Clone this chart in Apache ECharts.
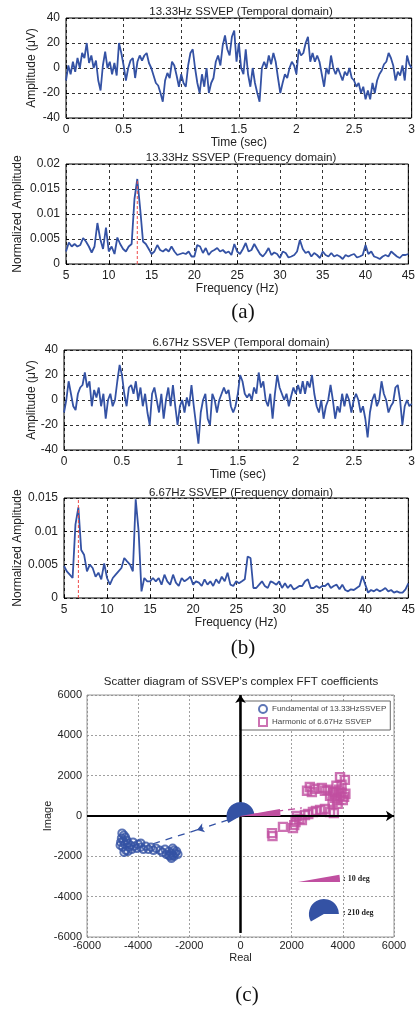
<!DOCTYPE html>
<html>
<head>
<meta charset="utf-8">
<script src="https://cdn.jsdelivr.net/npm/echarts@6/dist/echarts.min.js"></script>
<style>
  html, body { margin: 0; padding: 0; background: #fff; }
  #main { width: 418px; height: 1010px; }
</style>
</head>
<body>
<div id="main"></div>
<script>
// 13.33Hz SSVEP, temporal domain (uV), one sample every 0.02 s
const ampA = [
  -10, 2, -5, 5, -3, 8, 0, 12, 8, 20,
  4, 10, 0, 6, -10, -18, 2, 13, 0, 5,
  -5, 4, -6, 20, 12, 2, -10, 0, 6, 8,
  -8, 5, 10, 6, 10, 12, 4, 0, -6, -12,
  -14, -20, -27, -10, -4, -8, 5, 2, -6, -15,
  -5, -12, -15, 2, 12, 15, 0, -12, -20, -5,
  -15, 0, -20, -12, -8, 5, 10, 2, 18, 26,
  15, 10, 25, 30, 5, 20, 0, -5, 15, -5,
  -15, 0, -12, -20, -27, 0, 5, 0, 10, 3,
  12, 5, -8, -20, -12, -5, -8, 0, 5, 2,
  -5, 15, 10, 12, 20, 25, 5, 12, 5, 10,
  5, -5, -15, 0, -5, 10, 0, -5, 0, -5,
  -10, -3, -6, 0, -8, -10, -15, -12, -20, -15,
  -25, -18, -25, -12, -20, -10, -5, -2, 3, 5,
  12, 8, 2, -10, -3, -6, 2, -10, 10, 3,
  0
];
// 6.67Hz SSVEP, temporal domain (uV)
const ampB = [
  -10, 0, 15, 5, -5, -8, 5, 10, 12, 22,
  10, 15, -5, 8, 2, 10, -5, 5, -15, 0,
  5, -5, 0, 15, 28, 20, 5, -5, 10, 12,
  5, 15, 0, 10, -5, 5, -10, -20, 5, 10,
  0, -10, 5, -15, 0, 10, -5, 12, -5, -20,
  -5, 0, -10, 2, -5, 12, -5, -20, -35, -10,
  0, 5, -15, -20, 5, 0, -10, 0, 5, 10,
  5, 8, -5, -10, -5, 5, 20, 15, 5, 2,
  5, 0, 10, 5, 22, 10, 15, 0, -5, 5,
  -15, 5, 20, 10, 5, 0, 5, -5, 3, 10,
  5, 12, 5, 15, 5, 15, 10, 20, 5, -5,
  -10, 0, -15, -5, 0, 12, 0, -15, -5, -10,
  5, -5, 5, 0, -10, 0, 5, 0, -10, -5,
  -15, -30, -10, 0, 5, -5, 0, 15, 5, 0,
  -10, -5, -2, 10, 12, 0, -20, -5, 0, -5,
  -3
];
// normalized spectra, one value every 1/3 Hz from 5 to 45 Hz
const specA = [
  0.0025, 0.0043, 0.0035,  0.0040, 0.0035, 0.0038,  0.0052, 0.0045, 0.0035,
  0.0023, 0.0035, 0.0082,  0.0050, 0.0030, 0.0073,  0.0025, 0.0035, 0.0020,
  0.0053, 0.0040, 0.0030,  0.0025, 0.0035, 0.0040,  0.0130, 0.0170, 0.0110,
  0.0045, 0.0040, 0.0030,  0.0020, 0.0025, 0.0038,  0.0028, 0.0025, 0.0030,
  0.0025, 0.0035, 0.0025,  0.0018, 0.0020, 0.0022,  0.0020, 0.0025, 0.0015,
  0.0015, 0.0038, 0.0035,  0.0022, 0.0032, 0.0018,  0.0025, 0.0028, 0.0032,
  0.0025, 0.0028, 0.0022,  0.0025, 0.0018, 0.0040,  0.0025, 0.0020, 0.0030,
  0.0042, 0.0025, 0.0028,  0.0040, 0.0030, 0.0020,  0.0015, 0.0022, 0.0032,
  0.0018, 0.0023, 0.0020,  0.0012, 0.0025, 0.0022,  0.0013, 0.0015, 0.0018,
  0.0025, 0.0048, 0.0030,  0.0022, 0.0025, 0.0015,  0.0022, 0.0018, 0.0012,
  0.0025, 0.0018, 0.0015,  0.0022, 0.0015, 0.0018,  0.0015, 0.0010, 0.0018,
  0.0015, 0.0018, 0.0020,  0.0013, 0.0015, 0.0018,  0.0038, 0.0020, 0.0025,
  0.0015, 0.0013, 0.0010,  0.0015, 0.0018, 0.0015,  0.0025, 0.0020, 0.0015,
  0.0012, 0.0018, 0.0018,  0.0020
];
const specB = [
  0.0048, 0.0040, 0.0035,  0.0030, 0.0110, 0.0136,  0.0072, 0.0065, 0.0040,
  0.0050, 0.0045, 0.0032,  0.0038, 0.0028, 0.0052,  0.0030, 0.0020, 0.0030,
  0.0035, 0.0040, 0.0045,  0.0060, 0.0055, 0.0050,  0.0040, 0.0148, 0.0100,
  0.0010, 0.0030, 0.0025,  0.0025, 0.0030, 0.0025,  0.0030, 0.0020, 0.0035,
  0.0025, 0.0020, 0.0035,  0.0023, 0.0018, 0.0030,  0.0025, 0.0028, 0.0032,
  0.0020, 0.0025, 0.0023,  0.0018, 0.0028, 0.0020,  0.0025, 0.0018, 0.0028,
  0.0022, 0.0032, 0.0025,  0.0038, 0.0020, 0.0018,  0.0025, 0.0022, 0.0025,
  0.0028, 0.0062, 0.0060,  0.0015, 0.0015, 0.0020,  0.0025, 0.0018, 0.0015,
  0.0025, 0.0023, 0.0020,  0.0025, 0.0015, 0.0022,  0.0015, 0.0020, 0.0013,
  0.0015, 0.0018, 0.0018,  0.0025, 0.0028, 0.0015,  0.0015, 0.0018, 0.0015,
  0.0018, 0.0018, 0.0022,  0.0015, 0.0018, 0.0020,  0.0013, 0.0020, 0.0012,
  0.0010, 0.0013, 0.0012,  0.0015, 0.0018, 0.0033,  0.0020, 0.0008, 0.0012,
  0.0010, 0.0013, 0.0010,  0.0012, 0.0015, 0.0010,  0.0012, 0.0008, 0.0010,
  0.0008, 0.0008, 0.0013,  0.0022
];
const stimA = 13.33;
const stimB = 6.67;

// complex FFT coefficients [real, image]
const fundamental = [
  [-4630, -850], [-4560, -950], [-4650, -1100], [-4500, -1050], [-4580, -1250],
  [-4450, -1200], [-4680, -1300], [-4520, -1400], [-4400, -1350], [-4600, -1550],
  [-4480, -1700], [-4350, -1550], [-4300, -1450], [-4250, -1650], [-4150, -1500],
  [-4050, -1600], [-4400, -1750], [-4000, -1400], [-3900, -1550], [-3800, -1650],
  [-3700, -1500], [-3600, -1650], [-3500, -1550], [-3400, -1700], [-3300, -1600],
  [-3150, -1700], [-3050, -1800], [-2950, -1650], [-2900, -1900], [-2800, -1750],
  [-2750, -2000], [-2700, -1850], [-2650, -1950], [-2600, -1700], [-2550, -1850],
  [-2500, -1750], [-2800, -1950], [-2700, -2100], [-2600, -2000], [-2650, -1600],
  [-2450, -1900], [-4200, -1300], [-3900, -1350], [-4700, -1450], [-4550, -1800]
];
const harmonic = [
  [1230, -850], [1250, -1000], [1660, -540], [2050, -600], [2100, -450],
  [2150, -300], [2300, -150], [2400, -200], [2520, 50], [2650, 100],
  [2830, 200], [2950, 250], [3110, 300], [3300, 350], [3500, 200],
  [3650, 150], [2200, 0], [2710, 1440], [2600, 1250], [2790, 1190],
  [2900, 1350], [3180, 1390], [3400, 1300], [3620, 1190], [3500, 1000],
  [3700, 900], [3770, 790], [4000, 790], [3900, 1000], [4100, 1100],
  [3850, 1300], [3750, 1500], [3890, 1930], [4080, 1790], [3950, 1550],
  [3600, 700], [3800, 600], [4050, 950], [3700, 1200], [3300, 1250], [3950, 1150]
];
const fundArrowMid = [-1700, -690];
const fundArrowEnd = [-3600, -1450];
const harmArrowEnd = [2400, 400];
const phaseFund = 210;   // deg
const phaseHarm = 10;    // deg
const keyHarmAt = [2250, -3270];
const keyFundAt = [3260, -4860];

const blue = '#3452a4';
const magenta = '#c04fa0';
const font = 'Liberation Sans, Arial, sans-serif';

const freqs = specA.map((_, i) => +(5 + i / 3).toFixed(2));
const toPairs = (xs, ys) => ys.map((v, i) => [xs[i], v]);
const timesA = ampA.map((_, i) => +(i * 0.02).toFixed(2));
const timesB = ampB.map((_, i) => +(i * 0.02).toFixed(2));

const chart = echarts.init(document.getElementById('main'), null, { renderer: 'canvas' });

const boxGrid = (left, top, width, height, border) => ({
  left, top, width, height, show: true, borderColor: border, borderWidth: 1, backgroundColor: '#fff'
});

const tickLabel = { color: '#222', fontSize: 12, fontFamily: font, margin: 6 };
const dashedSplit = { show: true, lineStyle: { color: '#000', type: [3, 3], width: 0.8 } };

const xAx = (grid, min, max, interval, name) => ({
  type: 'value', gridIndex: grid, min, max, interval,
  name, nameLocation: 'middle', nameGap: 17,
  nameTextStyle: { color: '#222', fontSize: 12, fontFamily: font },
  axisLine: { show: false },
  axisTick: { show: true, inside: true, length: 3, lineStyle: { color: '#000' } },
  axisLabel: tickLabel, splitLine: dashedSplit
});
const yAx = (grid, min, max, interval, name, gap) => ({
  type: 'value', gridIndex: grid, min, max, interval,
  name, nameLocation: 'middle', nameGap: gap, nameMoveOverlap: false,
  nameTextStyle: { color: '#222', fontSize: 12, fontFamily: font },
  axisLine: { show: false },
  axisTick: { show: true, inside: true, length: 3, lineStyle: { color: '#000' } },
  axisLabel: tickLabel, splitLine: dashedSplit
});

const lineSeries = (idx, data) => ({
  type: 'line', xAxisIndex: idx, yAxisIndex: idx, data, z: 2,
  showSymbol: false, symbol: 'none', sampling: 'none', animation: false,
  lineStyle: { color: blue, width: 1.8 }
});

// red dashed marker at the stimulation frequency, drawn over the spectrum
const stimSeries = (idx, f, top) => ({
  type: 'line', xAxisIndex: idx, yAxisIndex: idx, z: 3, silent: true,
  data: [[f, 0], [f, top]], showSymbol: false, symbol: 'none', animation: false,
  lineStyle: { color: '#ee4a4a', type: [3, 2], width: 1 }
});

const mkTitle = (text, top) => ({
  text, left: 236, top, textAlign: 'center',
  textStyle: { color: '#222', fontSize: 11.5, fontWeight: 'normal', fontFamily: font }
});

const scatterSplit = { show: true, lineStyle: { color: '#888', type: [2, 2], width: 0.8 } };
const plain = (v) => String(v);

const option = {
  animation: false,
  title: [
    mkTitle('13.33Hz SSVEP (Temporal domain)', 1),
    mkTitle('13.33Hz SSVEP (Frequency domain)', 147),
    mkTitle('6.67Hz SSVEP (Temporal domain)', 332),
    mkTitle('6.67Hz SSVEP (Frequency domain)', 482),
    mkTitle('Scatter diagram of SSVEP\u2019s complex FFT coefficients', 671)
  ],
  grid: [
    boxGrid(66, 18, 347, 100, '#000'),
    boxGrid(66, 164, 347, 100, '#000'),
    boxGrid(64, 350, 349, 100, '#000'),
    boxGrid(64, 498, 349, 100, '#000'),
    boxGrid(87, 695, 307, 242, '#999')
  ],
  xAxis: [
    xAx(0, 0, 3, 0.5, 'Time (sec)'),
    xAx(1, 5, 45, 5, 'Frequency (Hz)'),
    xAx(2, 0, 3, 0.5, 'Time (sec)'),
    xAx(3, 5, 45, 5, 'Frequency (Hz)'),
    {
      type: 'value', gridIndex: 4, min: -6000, max: 6000, interval: 2000,
      name: 'Real', nameLocation: 'middle', nameGap: 15,
      nameTextStyle: { color: '#222', fontSize: 11, fontFamily: font },
      axisLine: { show: false }, axisTick: { show: false },
      axisLabel: { color: '#222', fontSize: 11, fontFamily: font, margin: 3, formatter: plain },
      splitLine: scatterSplit
    }
  ],
  yAxis: [
    yAx(0, -40, 40, 20, 'Amplitude (\u03bcV)', 28),
    yAx(1, 0, 0.02, 0.005, 'Normalized Amplitude', 42),
    yAx(2, -40, 40, 20, 'Amplitude (\u03bcV)', 26),
    yAx(3, 0, 0.015, 0.005, 'Normalized Amplitude', 40),
    {
      type: 'value', gridIndex: 4, min: -6000, max: 6000, interval: 2000,
      name: 'Image', nameLocation: 'middle', nameGap: 34, nameMoveOverlap: false,
      nameTextStyle: { color: '#222', fontSize: 11, fontFamily: font },
      axisLine: { show: false }, axisTick: { show: false },
      axisLabel: { color: '#222', fontSize: 11, fontFamily: font, margin: 5, formatter: plain },
      splitLine: scatterSplit
    }
  ],
  legend: {
    left: 240, top: 701, orient: 'vertical',
    padding: [3, 4, 3, 18], itemGap: 3, itemWidth: 8, itemHeight: 8,
    borderColor: '#666', borderWidth: 1, borderRadius: 0, backgroundColor: '#fff',
    textStyle: { color: '#444', fontSize: 8, fontFamily: font },
    data: ['Fundamental of 13.33HzSSVEP', 'Harmonic of 6.67Hz SSVEP']
  },
  series: [
    lineSeries(0, toPairs(timesA, ampA)),
    lineSeries(1, toPairs(freqs, specA)),
    stimSeries(1, stimA, 0.017),
    lineSeries(2, toPairs(timesB, ampB)),
    lineSeries(3, toPairs(freqs, specB)),
    stimSeries(3, stimB, 0.015),
    {
      name: 'Fundamental of 13.33HzSSVEP', type: 'scatter', xAxisIndex: 4, yAxisIndex: 4,
      data: fundamental, symbol: 'circle', symbolSize: 7.5,
      itemStyle: { color: 'rgba(255,255,255,0)', borderColor: blue, borderWidth: 2 },
      markLine: {
        silent: true, animation: false, symbolSize: 8,
        label: { show: false },
        data: [
          [{ coord: [-6000, 0], symbol: 'none', lineStyle: { color: '#000', width: 2, type: 'solid' } },
           { coord: [6000, 0], symbol: 'arrow' }],
          [{ coord: [0, -5800], symbol: 'none', lineStyle: { color: '#000', width: 2.5, type: 'solid' } },
           { coord: [0, 6000], symbol: 'arrow' }],
          [{ coord: [0, 0], symbol: 'none', lineStyle: { color: blue, width: 1.3, type: [7, 6] } },
           { coord: fundArrowMid, symbol: 'arrow', symbolSize: 7 }],
          [{ coord: fundArrowMid, symbol: 'none', lineStyle: { color: blue, width: 1.3, type: [7, 6] } },
           { coord: fundArrowEnd, symbol: 'none' }],
          [{ coord: [0, 0], symbol: 'none', lineStyle: { color: magenta, width: 1.3, type: [7, 5] } },
           { coord: harmArrowEnd, symbol: 'none' }]
        ]
      }
    },
    {
      name: 'Harmonic of 6.67Hz SSVEP', type: 'scatter', xAxisIndex: 4, yAxisIndex: 4,
      data: harmonic, symbol: 'rect', symbolSize: 8,
      itemStyle: { color: 'rgba(255,255,255,0)', borderColor: magenta, borderWidth: 2.4 }
    }
  ]
};
chart.setOption(option);

// phase sectors and panel captions
const px = (pt) => chart.convertToPixel({ gridIndex: 4 }, pt);
const rad = (d) => d * Math.PI / 180;
const origin = px([0, 0]);
const kh = px(keyHarmAt);
const kf = px(keyFundAt);
const sector = (c, r, deg, color, z) => ({
  type: 'sector', z: z || 50, silent: true,
  shape: { cx: c[0], cy: c[1], r, r0: 0, startAngle: -rad(deg), endAngle: 0, clockwise: true },
  style: { fill: color }
});
const keyText = (x, y, text) => ({
  type: 'text', x, y, silent: true, z: 60,
  style: { text, fill: '#222', font: 'bold 8px "Liberation Serif", serif', verticalAlign: 'middle' }
});
const caption = (x, y, text) => ({
  type: 'text', x, y, silent: true,
  style: { text, fill: '#111', font: '21px "Liberation Serif", serif', align: 'center', verticalAlign: 'middle' }
});

chart.setOption({
  graphic: [
    sector(origin, 14, phaseFund, blue, 50),
    sector(origin, 40, phaseHarm, magenta, 51),
    sector(kh, 42, phaseHarm, magenta, 50),
    sector(kf, 15, phaseFund, blue, 50),
    keyText(kh[0] + 45, kh[1] - 3, ': 10 deg'),
    keyText(kf[0] + 19, kf[1] - 1, ': 210 deg'),
    caption(243, 312, '(a)'),
    caption(243, 648, '(b)'),
    caption(247, 995, '(c)')
  ]
});
</script>
</body>
</html>
